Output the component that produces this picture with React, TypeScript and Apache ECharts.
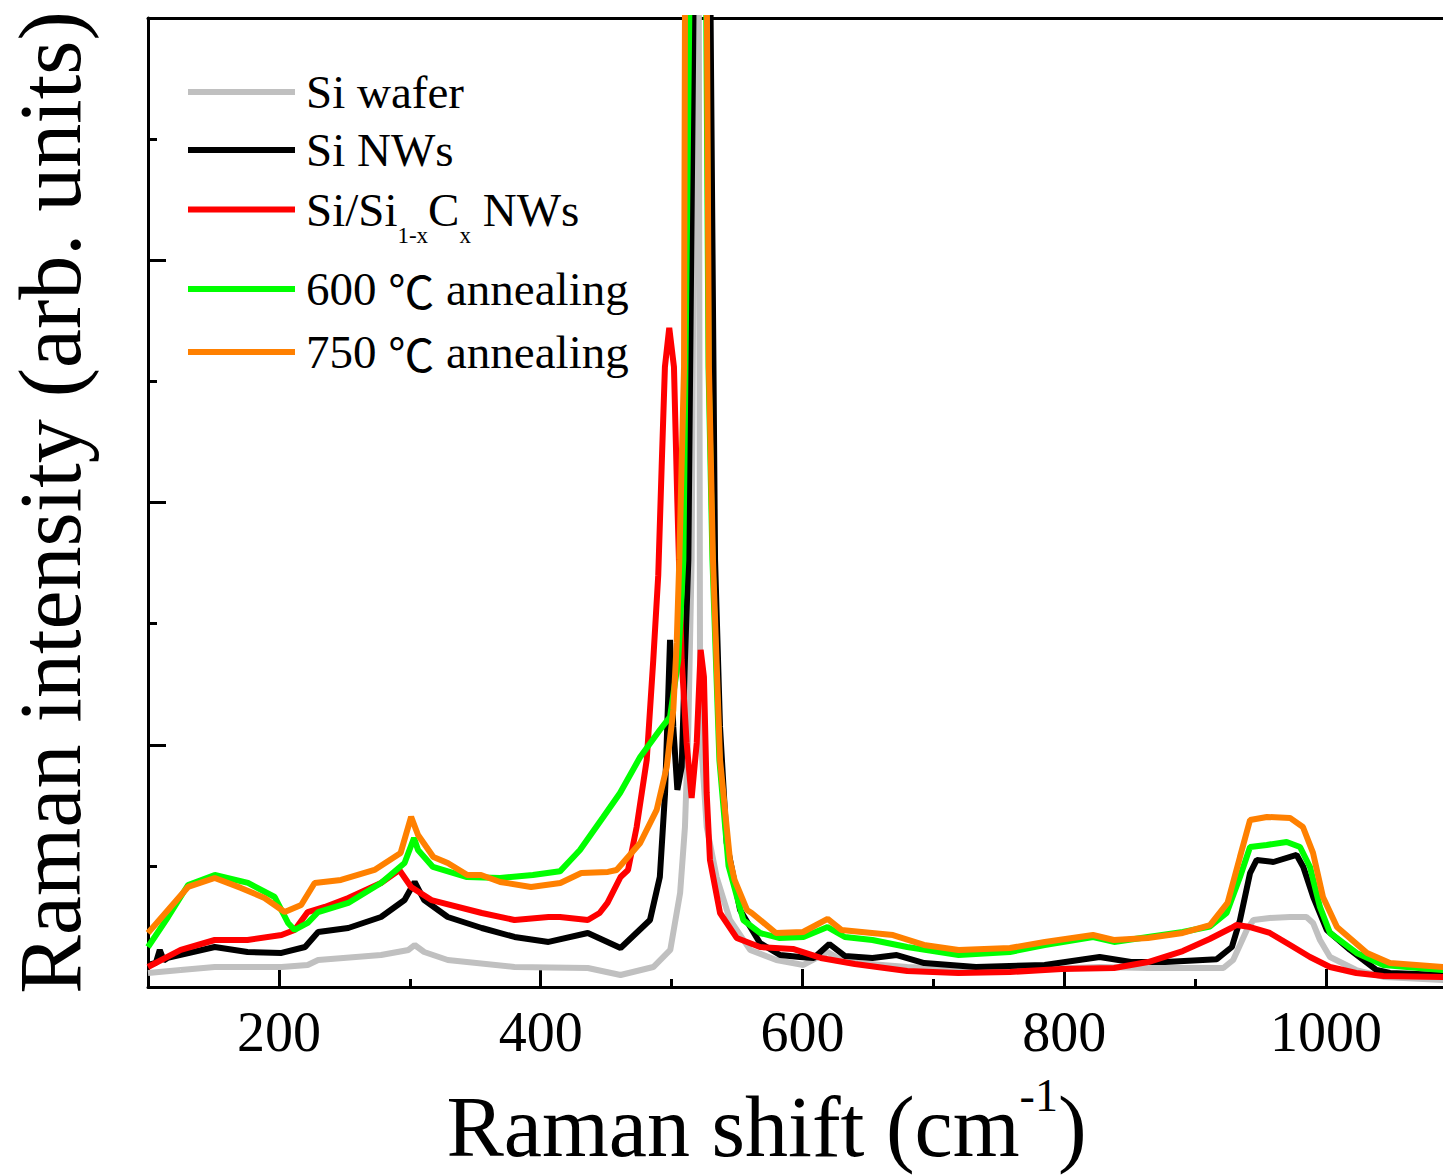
import React, { useEffect, useRef } from "react";
import * as echarts from "echarts";

// Raman shift (cm^-1) vs intensity (arb. units; one minor y tick = 1000)
const siWafer: number[][] = [
  [100, 116], [125, 140], [151, 165], [202, 165], [222, 182], [230, 223], [278, 264], [299, 306],
  [303.7, 347], [311, 289], [329, 223], [380, 165], [436, 157], [461, 99], [486, 165], [499, 306],
  [506.5, 776], [510.2, 1321], [512.8, 2147], [515.3, 3526], [517.8, 8000], [519.3, 30000],
  [520.8, 8000], [521.8, 2147], [526.8, 1321], [534.4, 908], [544.6, 553], [560, 306], [580, 223],
  [600.7, 182], [619.2, 289], [632.3, 206], [680, 165], [732.5, 140], [785, 149], [827, 165],
  [864, 157], [921.5, 157], [929, 223], [939.4, 471], [944.5, 553], [957, 570], [972.5, 578],
  [985, 578], [990, 529], [995.3, 388], [1003, 248], [1023, 140], [1044, 83], [1089, 58], [1100, 55],
];

const siNWs: number[][] = [
  [100, 182], [106, 200], [109, 306], [112, 220], [115, 240], [151, 330], [176, 289], [202, 281],
  [220, 330], [230, 454], [253, 487], [278, 578], [296, 718], [303.7, 867], [311, 718], [329, 578],
  [355, 487], [380, 413], [406, 372], [436, 446], [461, 322], [483.5, 553], [491, 908], [495, 1602],
  [497.5, 2428], [498.8, 2866], [501.3, 2147], [504.4, 1627], [507.7, 1817], [510.2, 2700],
  [512.8, 3526], [516.7, 8000], [523, 30000], [529.8, 8000], [533.2, 3526], [537, 2147],
  [542.1, 1189], [552.3, 636], [567.5, 363], [582.8, 264], [598, 248], [608.6, 240], [620.5, 355],
  [632.3, 256], [653.4, 240], [672, 264], [693, 198], [732.5, 165], [785, 182], [827, 248],
  [851, 206], [877, 206], [916.5, 230], [928, 330], [934.2, 553], [941.9, 941], [947, 1049],
  [959.7, 1032], [977.5, 1090], [982.6, 991], [990.2, 743], [1000.5, 471], [1018.3, 306],
  [1038.6, 140], [1048.8, 116], [1089, 99], [1100, 95],
];

const siSiCNWs: number[][] = [
  [100, 165], [125, 306], [151, 388], [176, 388], [202, 429], [212, 471], [222, 619], [235, 661],
  [253, 735], [278, 859], [292, 966], [301, 826], [316.5, 718], [355, 611], [380, 553], [406, 578],
  [414.7, 578], [436, 553], [445, 611], [451, 694], [461, 908], [466.7, 966], [473.3, 1321],
  [481, 1875], [486, 2700], [489.8, 3400], [492.4, 4294], [494.9, 5120], [498.2, 5442],
  [501.8, 5120], [504.4, 4000], [507.7, 2700], [511.5, 2015], [515.3, 1561], [519.2, 2015],
  [522.2, 2783], [524.7, 2560], [526.8, 1602], [529.3, 1049], [537, 611], [549.7, 405],
  [567.5, 330], [592.7, 314], [614, 240], [640, 190], [680, 132], [719, 116], [758.5, 124],
  [798, 149], [838, 157], [864, 206], [890.5, 297], [911, 396], [927.5, 487], [931.7, 512],
  [941.9, 495], [957, 446], [972.5, 347], [987.7, 248], [1003, 165], [1023, 116], [1043.7, 91],
  [1089, 83], [1100, 80],
];

const anneal600: number[][] = [
  [100, 330], [115.3, 578], [130.6, 842], [151, 925], [176.4, 859], [196.8, 743], [207, 529],
  [212, 471], [222, 529], [230, 619], [253, 694], [278, 859], [296, 1024], [303.2, 1230],
  [306.3, 1131], [317.7, 991], [343.7, 908], [369, 900], [394, 925], [414.7, 955], [430, 1131],
  [447.8, 1404], [460.6, 1602], [476, 1899], [491, 2122], [498.8, 2230], [505.1, 2700], [509, 3526],
  [513.5, 8000], [520, 30000], [526.5, 8000], [528.2, 5120], [531.2, 3526], [536.5, 1875],
  [543.5, 1000], [554.8, 553], [567.5, 446], [582, 405], [600.7, 413], [619.2, 495], [632.3, 413],
  [653.4, 388], [680, 330], [719.3, 264], [758.5, 289], [785, 347], [822, 413], [838, 372],
  [864, 413], [890.5, 454], [911.3, 500], [924, 611], [934.2, 908], [941.9, 1156], [954.6, 1173],
  [969.9, 1197], [980.1, 1156], [987.7, 991], [995.3, 661], [1003, 446], [1023.3, 281],
  [1043.7, 182], [1089, 140], [1100, 135],
];

const anneal750: number[][] = [
  [100, 446], [115.3, 636], [130.6, 826], [151, 900], [171, 818], [189, 735], [204.4, 619],
  [217, 677], [227.3, 859], [247.4, 884], [273, 966], [293, 1107], [301, 1404], [306.3, 1255],
  [318, 1073], [329, 1024], [344, 925], [354.4, 925], [369, 867], [392.6, 826], [415, 859],
  [431, 941], [451.4, 950], [458, 966], [466.7, 1074], [476, 1189], [488.6, 1462], [496.3, 1817],
  [501.3, 2287], [503.9, 2841], [505.9, 3526], [509.5, 5120], [510.2, 8000], [518.5, 30000],
  [527, 8000], [528.5, 5120], [531.6, 3526], [537, 1875], [544.6, 1049], [548.1, 884],
  [557.6, 636], [561.2, 611], [579.7, 446], [600.4, 454], [619.2, 562], [629.7, 471], [653.1, 446],
  [669.1, 429], [692.8, 347], [719.3, 306], [758.5, 322], [785.1, 372], [821.9, 429], [837.8, 388],
  [863.9, 405], [890.5, 446], [911.3, 510], [924.7, 694], [934.2, 1074], [941.9, 1379],
  [954.8, 1404], [972.4, 1396], [982.3, 1321], [990, 1107], [997.6, 743], [1008.3, 495],
  [1031.3, 281], [1048.8, 198], [1089.3, 165], [1100, 160],
];

const seriesNames = ["Si wafer", "Si NWs", "Si/Si1-xCx NWs", "600 ℃ annealing", "750 ℃ annealing"];
const seriesColors = ["#C0C0C0", "#000000", "#FF0000", "#00FF00", "#FF8000"];
const seriesData = [siWafer, siNWs, siSiCNWs, anneal600, anneal750];

const majorXTicks = [200, 400, 600, 800, 1000];
const minorXTicks = [300, 500, 700, 900];

const FONT = "'Times New Roman', 'Liberation Serif', 'Noto Sans CJK SC', serif";
const CJK = "'Noto Sans CJK SC', 'Noto Sans CJK JP', sans-serif";

export default function App() {
  const ref = useRef<HTMLDivElement>(null);
  useEffect(() => {
    if (!ref.current) return;
    const chart = echarts.init(ref.current, null, { renderer: "svg" });
    const legendText = {
      fontFamily: FONT,
      fontSize: 47,
      color: "#000",
      lineHeight: 50,
      padding: [0, 0, 0, 6],
    };
    const legendBase = {
      orient: "vertical",
      left: 188,
      padding: 0,
      icon: "rect",
      itemWidth: 107,
      itemHeight: 6,
      selectedMode: false,
      textStyle: legendText,
    };
    chart.setOption({
      animation: false,
      backgroundColor: "#ffffff",
      grid: { left: 148, top: 18, right: -14, bottom: 188, containLabel: false, outerBoundsMode: "none" },
      legend: [
        { ...legendBase, top: 67, itemGap: 8, data: [seriesNames[0], seriesNames[1]] },
        {
          ...legendBase,
          top: 172,
          data: [seriesNames[2]],
          formatter: () => "{m|Si/Si}{s|1-x}{m|C}{s|x}{m| NWs}",
          textStyle: {
            ...legendText,
            lineHeight: 75,
            rich: {
              m: { fontFamily: FONT, fontSize: 47, lineHeight: 50, verticalAlign: "middle", color: "#000" },
              s: { fontFamily: FONT, fontSize: 23, lineHeight: 75, verticalAlign: "bottom", color: "#000" },
            },
          },
        },
        {
          ...legendBase,
          top: 264,
          itemGap: 13,
          data: [seriesNames[3], seriesNames[4]],
          formatter: (name: string) => name.replace("℃", "{c|℃}"),
          textStyle: {
            ...legendText,
            rich: {
              c: { fontFamily: CJK, fontSize: 46, lineHeight: 50, color: "#000" },
            },
          },
        },
      ],
      xAxis: [
        {
          type: "value",
          min: 100,
          max: 1100,
          interval: 100,
          position: "bottom",
          axisLine: { show: true, onZero: false, lineStyle: { color: "#000", width: 3 } },
          axisTick: { show: true, inside: true, length: 18, lineStyle: { color: "#000", width: 3 }, customValues: majorXTicks },
          axisLabel: {
            show: true,
            customValues: majorXTicks,
            margin: 17,
            fontFamily: FONT,
            fontSize: 56,
            color: "#000",
            formatter: (v: number) => String(v),
          },
          splitLine: { show: false },
          name: "{m|Raman shift (cm}{p|-1}{m|)}",
          nameLocation: "middle",
          nameGap: 85,
          nameTextStyle: {
            fontFamily: FONT,
            fontSize: 86,
            color: "#000",
            padding: [0, 72, 0, 0],
            rich: {
              m: { fontFamily: FONT, fontSize: 86, lineHeight: 98, verticalAlign: "bottom", color: "#000" },
              p: { fontFamily: FONT, fontSize: 46, lineHeight: 46, verticalAlign: "top", color: "#000" },
            },
          },
        },
        {
          type: "value",
          min: 100,
          max: 1100,
          interval: 100,
          position: "bottom",
          axisLine: { show: false, onZero: false },
          axisTick: { show: true, inside: true, length: 8, lineStyle: { color: "#000", width: 3 }, customValues: minorXTicks },
          axisLabel: { show: false },
          splitLine: { show: false },
        },
        {
          type: "value",
          min: 100,
          max: 1100,
          interval: 100,
          position: "top",
          axisLine: { show: true, onZero: false, lineStyle: { color: "#000", width: 3 } },
          axisTick: { show: false },
          axisLabel: { show: false },
          splitLine: { show: false },
        },
      ],
      yAxis: {
        type: "value",
        min: 0,
        max: 8000,
        interval: 2000,
        axisLine: { show: true, onZero: false, lineStyle: { color: "#000", width: 3 } },
        axisTick: { show: true, inside: true, length: 18, lineStyle: { color: "#000", width: 3 } },
        minorTick: { show: true, splitNumber: 2, length: 9, lineStyle: { color: "#000", width: 3 } },
        axisLabel: { show: false },
        splitLine: { show: false },
        minorSplitLine: { show: false },
        name: "Raman intensity (arb. units)",
        nameLocation: "middle",
        nameGap: 54,
        nameTextStyle: { fontFamily: FONT, fontSize: 88, color: "#000" },
      },
      series: seriesNames.map((name, i) => ({
        name,
        type: "line",
        xAxisIndex: 0,
        yAxisIndex: 0,
        data: seriesData[i],
        showSymbol: false,
        symbol: "none",
        clip: true,
        color: seriesColors[i],
        lineStyle: { color: seriesColors[i], width: 6 },
        itemStyle: { color: seriesColors[i] },
        z: 2 + i,
      })),
    });
    return () => chart.dispose();
  }, []);
  return (
    <div
      ref={ref}
      style={{ position: "fixed", left: 0, top: 0, width: 1443, height: 1175, background: "#fff" }}
    />
  );
}
